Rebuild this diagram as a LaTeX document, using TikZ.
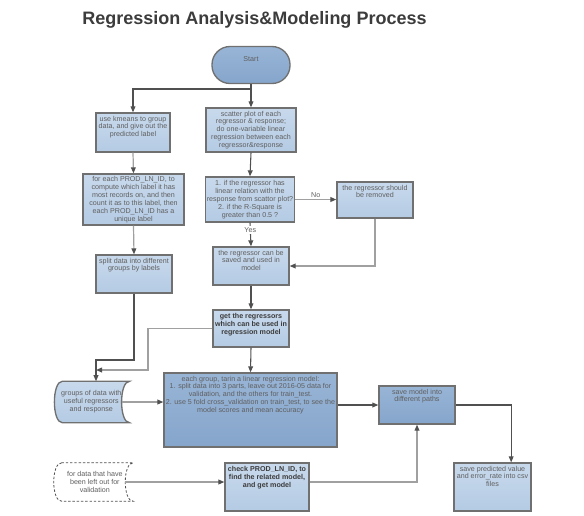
\documentclass[tikz,border=0pt]{standalone}
\usepackage{fontspec}
\setmainfont{Liberation Sans}
\usetikzlibrary{arrows.meta}

\definecolor{boxlight}{RGB}{200,217,236}
\definecolor{boxlightb}{RGB}{180,203,228}
\definecolor{boxdark}{RGB}{152,181,214}
\definecolor{boxdarkb}{RGB}{134,165,203}
\definecolor{edgegray}{RGB}{112,112,112}
\definecolor{wire}{RGB}{80,80,80}
\definecolor{wirelt}{RGB}{160,160,160}
\definecolor{txtgray}{RGB}{95,95,95}
\definecolor{titlegray}{RGB}{60,60,60}

\newcommand{\diagfont}{\fontsize{5.35}{5.9}\selectfont}

\tikzset{
  lbox/.style={draw=edgegray, line width=1pt, top color=boxlight, bottom color=boxlightb,
    inner sep=1pt, align=center, font=\diagfont, text=txtgray},
  dbox/.style={lbox, top color=boxdark, bottom color=boxdarkb},
  boxtext/.style={anchor=north, inner sep=1pt, align=center, font=\diagfont, text=txtgray},
  flow/.style={draw=wire, line width=0.8pt, -{Triangle[length=4.5pt,width=3.6pt]}},
  flowlt/.style={draw=wirelt, line width=0.9pt, -{Triangle[length=4.5pt,width=3.6pt,color=wire]}},
  flowtag/.style={font=\diagfont, text=txtgray, inner sep=1pt}
}

\begin{document}
\begin{tikzpicture}[x=0.75pt,y=0.75pt,yscale=-1,xscale=1]
  \useasboundingbox (0,0) rectangle (584,515);

  % Title
  \node[font=\bfseries\fontsize{13.5}{16}\selectfont, text=titlegray] (title) at (254.5,20) {Regression Analysis\&Modeling Process};

  %Shape: Rounded Rectangle [start]
  \node[dbox, rounded corners=13.5pt, minimum width=58.5pt, minimum height=27.75pt] (start) at (251,65) {};
  \node[boxtext, anchor=center] (startT) at (251,59) {Start};

  %Shape: Rectangle [left column]
  \node[lbox, minimum width=55.5pt, minimum height=29.25pt] (kmeans) at (133,132.5) {};
  \node[boxtext] (kmeansT) at ([yshift=1.5pt]kmeans.north) {use kmeans to group\\data, and give out the\\predicted label};
  \node[lbox, minimum width=75.75pt, minimum height=38.25pt] (prod) at (133.5,199.5)
    {for each PROD\_LN\_ID, to\\compute which label it has\\most records on, and then\\count it as to this label, then\\each PROD\_LN\_ID has a\\unique label};
  \node[lbox, minimum width=57pt, minimum height=28.5pt] (split) at (134,274) {};
  \node[boxtext] (splitT) at ([yshift=1.5pt]split.north) {split data into different\\groups by labels};

  %Shape: Rectangle [middle column]
  \node[lbox, minimum width=67.5pt, minimum height=33pt] (scatter) at (251,130)
    {scatter plot of each\\regressor \& response;\\do one-variable linear\\regression between each\\regressor\&response};
  \node[lbox, minimum width=66pt, minimum height=33.75pt] (decision) at (250,199.5)
    {1. if the regressor has\\linear relation with the\\response from scattor plot?\\2. if the R-Square is\\greater than 0.5 ?};
  \node[lbox, minimum width=57pt, minimum height=27pt] (removed) at (375,200) {};
  \node[boxtext] (removedT) at ([yshift=1.5pt]removed.north) {the regressor should\\be removed};
  \node[lbox, minimum width=57pt, minimum height=28.5pt] (saved) at (251,266) {};
  \node[boxtext] (savedT) at ([yshift=1.5pt]saved.north) {the regressor can be\\saved and used in\\model};
  \node[lbox, minimum width=57pt, minimum height=27.75pt] (getreg) at (251,328.5) {};
  \node[boxtext, font=\diagfont\bfseries, text=titlegray] (getregT) at ([yshift=2pt]getreg.north) {get the regressors\\which can be used in\\regression model};

  %Shape: Stored Data [groups]
  \path node[minimum width=50pt, minimum height=30.75pt, inner sep=0pt] (groups) at (96,402) {};
  \draw[draw=edgegray, line width=1pt, top color=boxlight, bottom color=boxlightb]
    (groups.north west) .. controls ([xshift=-8pt]groups.north west) and ([xshift=-8pt]groups.south west) .. (groups.south west)
    -- (groups.south east) .. controls ([xshift=-8pt]groups.south east) and ([xshift=-8pt]groups.north east) .. (groups.north east) -- cycle;
  \node[boxtext, anchor=center] (groupsT) at ([xshift=-3.5pt]groups.center) {groups of data with\\useful regressors\\and response};

  %Shape: Rectangle [model]
  \node[dbox, minimum width=129.75pt, minimum height=55.5pt] (train) at (250.5,410) {};
  \node[boxtext] (trainT) at ([yshift=1.5pt]train.north) {each group, tarin a linear regression model:\\1. split data into 3 parts, leave out 2016-05 data for\\validation, and the others for train\_test.\\2. use 5 fold cross\_validation on train\_test, to see the\\model scores and mean accuracy};
  \node[dbox, minimum width=57pt, minimum height=28.5pt] (savemodel) at (417,405) {};
  \node[boxtext] (savemodelT) at ([yshift=1.5pt]savemodel.north) {save model into\\different paths};
  \node[lbox, minimum width=57.75pt, minimum height=36pt] (savepred) at (492.5,487) {};
  \node[boxtext] (savepredT) at ([yshift=1.5pt]savepred.north) {save predicted value\\and error\_rate into csv\\files};

  %Shape: Stored Data [validation]
  \path node[minimum width=53.25pt, minimum height=28.5pt, inner sep=0pt] (dashed) at (97.5,482) {};
  \draw[draw=wire, line width=0.6pt, dash pattern=on 1.8pt off 1.4pt, fill=white]
    (dashed.north west) .. controls ([xshift=-8pt]dashed.north west) and ([xshift=-8pt]dashed.south west) .. (dashed.south west)
    -- (dashed.south east) .. controls ([xshift=-8pt]dashed.south east) and ([xshift=-8pt]dashed.north east) .. (dashed.north east) -- cycle;
  \node[boxtext, anchor=center] (dashedT) at ([xshift=-2pt]dashed.center) {for data that have\\been left out for\\validation};
  \node[lbox, minimum width=63pt, minimum height=36pt] (check) at (267,487) {};
  \node[boxtext, font=\diagfont\bfseries, text=titlegray] (checkT) at ([yshift=2pt]check.north) {check PROD\_LN\_ID, to\\find the related model,\\and get model};

  % Joints
  \coordinate (j1) at (251,89);
  \coordinate (j2) at (148,370);
  \coordinate (j3) at (96,370);
  \coordinate (j4) at (96,360);

  %Straight Lines
  \draw[flow] (start.south) -- (scatter.north);
  \draw[flow] (j1) -| (kmeans.north);
  \draw[flowlt] (kmeans.south) -- (prod.north);
  \draw[flowlt] (prod.south) -- (split.north);
  \draw[flow] (scatter.south) -- (decision.north);
  \draw[flowlt] (decision.east) -- (decision.east -| removed.west) node[flowtag, midway, above] (noT) {No};
  \draw[flow] (decision.south) -- (saved.north) node[flowtag, pos=0.3, fill=white] (yesT) {Yes};
  \draw[flowlt] (removed.south) |- (saved.east);
  \draw[flow] (saved.south) -- (getreg.north);
  \draw[flowlt] (getreg.west) -| (j2) -- (j3);
  \draw[flow] (split.south) |- (j4) -- (groups.north);
  \draw[flowlt] ([xshift=-6pt]groups.east) -- (groups.east -| train.west);
  \draw[flow] (getreg.south) -- (train.north);
  \draw[flow] (savemodel.west -| train.east) -- (savemodel.west);
  \draw[flow] (savemodel.east) -| ([xshift=14pt]savepred.north);
  \draw[flowlt] ([xshift=-6pt]dashed.east) -- (dashed.east -| check.west);
  \draw[flowlt] (check.east |- dashed.east) -| (savemodel.south);
\end{tikzpicture}
\end{document}
